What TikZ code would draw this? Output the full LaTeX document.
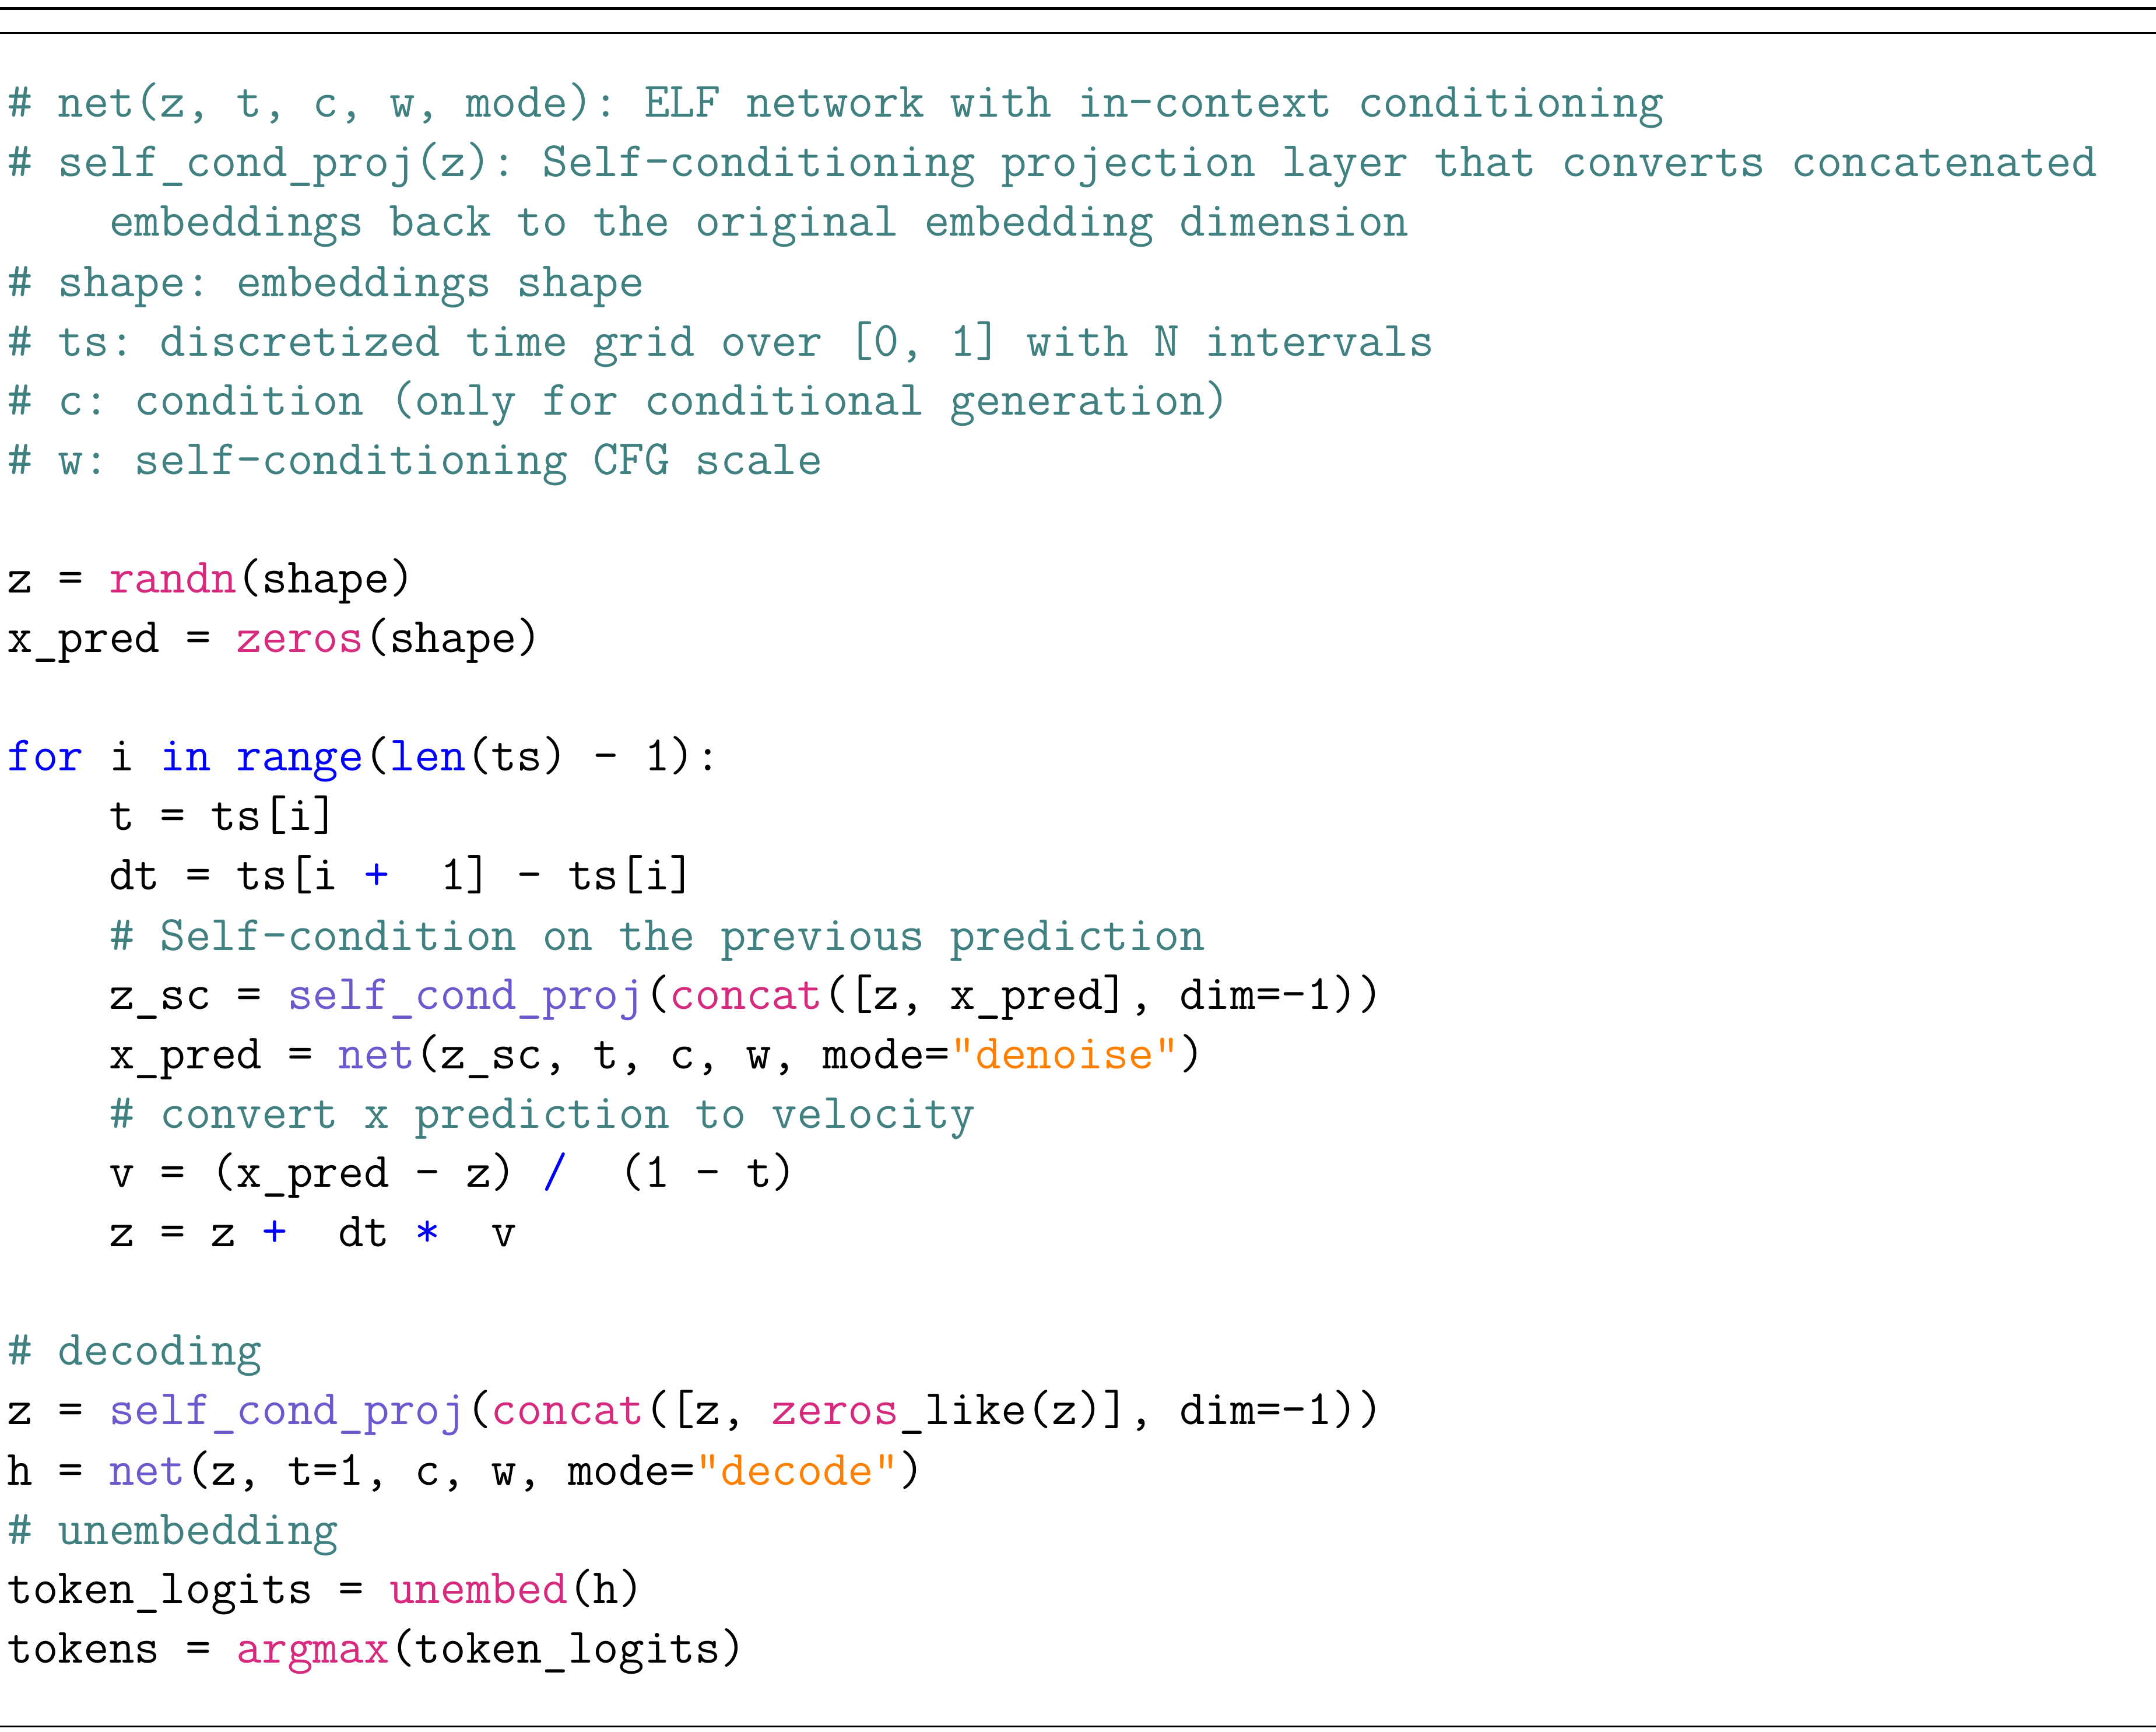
\documentclass[tikz,border=0pt]{standalone}
\definecolor{cmt}{HTML}{408080}
\definecolor{kw}{HTML}{0000FF}
\definecolor{fn}{HTML}{D62A7E}
\definecolor{pf}{HTML}{6A5ACD}
\definecolor{st}{HTML}{FF8000}
\newcommand{\cmC}[1]{\textcolor{cmt}{#1}}
\newcommand{\cmK}[1]{\textcolor{kw}{#1}}
\newcommand{\cmF}[1]{\textcolor{fn}{#1}}
\newcommand{\cmP}[1]{\textcolor{pf}{#1}}
\newcommand{\cmS}[1]{\textcolor{st}{#1}}
\begin{document}
\begin{tikzpicture}[x=1pt,y=-1pt,
  ln/.style={anchor=base west,inner sep=0pt,font=\fontsize{35.9}{43}\selectfont\ttfamily}]
\useasboundingbox (0,0) rectangle (1564,1256);
\draw[line width=2.2pt] (0,6) -- (1564,6);
\draw[line width=1.2pt] (0,24) -- (1564,24);
\draw[line width=1.2pt] (0,1252) -- (1564,1252);
\node[ln] (l1) at (5,85) {\cmC{\#~net(z,~t,~c,~w,~mode):~ELF~network~with~in-context~conditioning}};
\node[ln] (l2) at (5,128) {\cmC{\#~self\_cond\_proj(z):~Self-conditioning~projection~layer~that~converts~concatenated}};
\node[ln] (l3) at (5,171) {\cmC{~~~~embeddings~back~to~the~original~embedding~dimension}};
\node[ln] (l4) at (5,215) {\cmC{\#~shape:~embeddings~shape}};
\node[ln] (l5) at (5,258) {\cmC{\#~ts:~discretized~time~grid~over~[0,~1]~with~N~intervals}};
\node[ln] (l6) at (5,301) {\cmC{\#~c:~condition~(only~for~conditional~generation)}};
\node[ln] (l7) at (5,344) {\cmC{\#~w:~self-conditioning~CFG~scale}};
\node[ln] (l8) at (5,430) {z~=~\cmF{randn}(shape)};
\node[ln] (l9) at (5,473) {x\_pred~=~\cmF{zeros}(shape)};
\node[ln] (l10) at (5,559) {\cmK{for}~i~\cmK{in}~\cmK{range}(\cmK{len}(ts)~-~1):};
\node[ln] (l11) at (5,602) {~~~~t~=~ts[i]};
\node[ln] (l12) at (5,645) {~~~~dt~=~ts[i~\cmK{+}~~1]~-~ts[i]};
\node[ln] (l13) at (5,689) {~~~~\cmC{\#~Self-condition~on~the~previous~prediction}};
\node[ln] (l14) at (5,732) {~~~~z\_sc~=~\cmP{self\_cond\_proj}(\cmF{concat}([z,~x\_pred],~dim=-1))};
\node[ln] (l15) at (5,775) {~~~~x\_pred~=~\cmP{net}(z\_sc,~t,~c,~w,~mode=\cmS{"denoise"})};
\node[ln] (l16) at (5,818) {~~~~\cmC{\#~convert~x~prediction~to~velocity}};
\node[ln] (l17) at (5,861) {~~~~v~=~(x\_pred~-~z)~\cmK{/}~~(1~-~t)};
\node[ln] (l18) at (5,904) {~~~~z~=~z~\cmK{+}~~dt~\cmK{*}~~v};
\node[ln] (l19) at (5,990) {\cmC{\#~decoding}};
\node[ln] (l20) at (5,1033) {z~=~\cmP{self\_cond\_proj}(\cmF{concat}([z,~\cmF{zeros}\_like(z)],~dim=-1))};
\node[ln] (l21) at (5,1077) {h~=~\cmP{net}(z,~t=1,~c,~w,~mode=\cmS{"decode"})};
\node[ln] (l22) at (5,1120) {\cmC{\#~unembedding}};
\node[ln] (l23) at (5,1163) {token\_logits~=~\cmF{unembed}(h)};
\node[ln] (l24) at (5,1206) {tokens~=~\cmF{argmax}(token\_logits)};
\end{tikzpicture}
\end{document}
